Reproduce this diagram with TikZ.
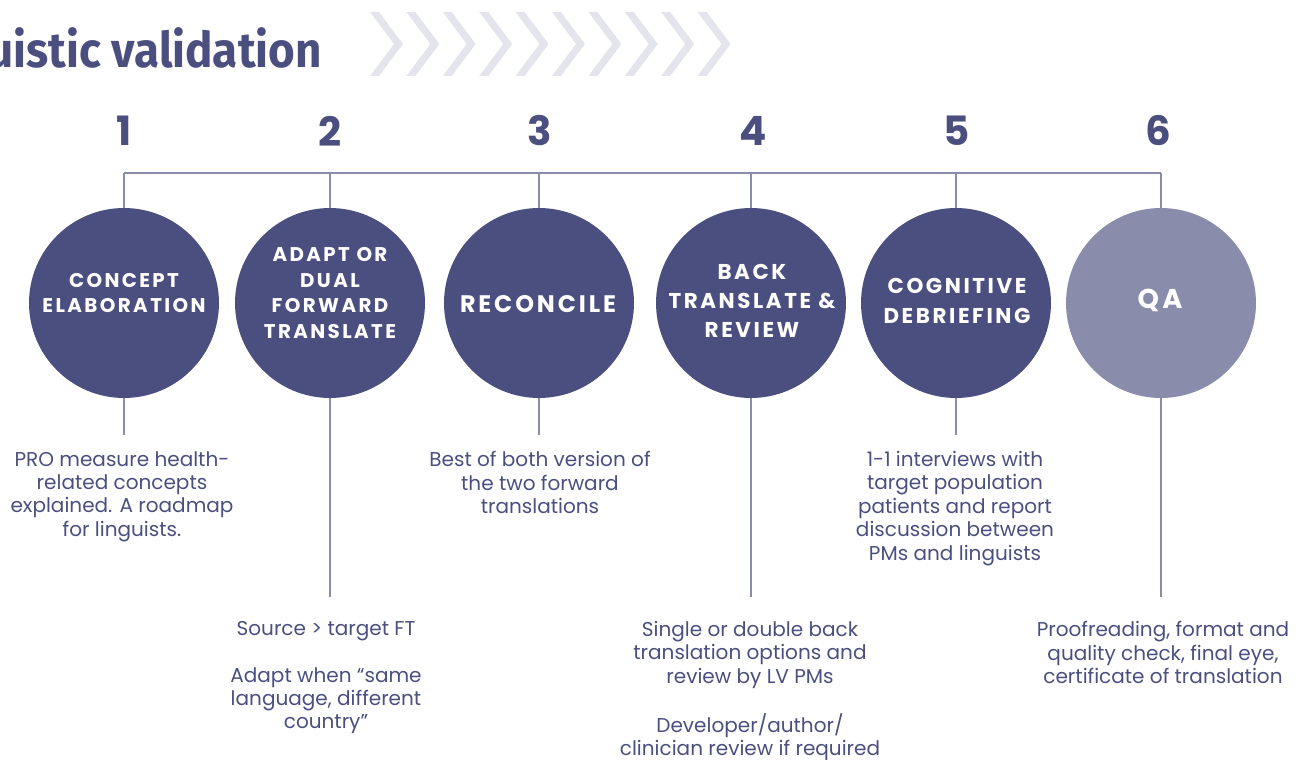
\documentclass[tikz,border=0pt]{standalone}
\usepackage{fontspec}
\setmainfont{Poppins}
\newfontfamily\titlefont{Fira Sans}
\newfontfamily\stepfont[LetterSpace=12]{Poppins}
\usetikzlibrary{positioning, calc}
\definecolor{Primary}{RGB}{75, 79, 128}
\definecolor{Faded}{RGB}{138, 140, 171}
\definecolor{Chevron}{RGB}{228, 229, 236}

\tikzset{
  stepcircle/.style={circle, fill=Primary, minimum size=3.8cm, inner sep=0},
  steplabel/.style={text=white, align=center, inner sep=0,
    font=\stepfont\bfseries\fontsize{11.3}{14.7}\selectfont},
  stepnum/.style={text=Primary, font=\bfseries\fontsize{23}{23}\selectfont},
  stepnote/.style={text=Primary, align=center, inner sep=0, anchor=north,
    font=\fontsize{11.4}{13.3}\selectfont},
  link/.style={draw=Faded, line width=0.8pt}
}

\begin{document}
\begin{tikzpicture}[x=0.02cm, y=-0.02cm]
            \clip (0,0) rectangle (1306,760);

            % heading and chevrons
            \node[anchor=base east, text=Primary, inner sep=0,
              font=\titlefont\bfseries\fontsize{28}{28}\selectfont] (title) at (322,68)
              {\scalebox{0.93}[1]{Linguistic validation}};
            \foreach \i in {0,...,9}
              \fill[Chevron] ({370+36.4*\i},12) -- ++(9,0) -- ++(24,32) -- ++(-24,32)
                -- ++(-9,0) -- ++(24,-32) -- cycle;

            % step numbers
            \node[stepnum] (n1) at (124,131) {1};
            \node[stepnum] (n2) at (330,131) {2};
            \node[stepnum] (n3) at (540,131) {3};
            \node[stepnum] (n4) at (753,131) {4};
            \node[stepnum] (n5) at (957,131) {5};
            \node[stepnum] (n6) at (1158,131) {6};

            % circles
            \node[stepcircle] (c1) at (124,303) {};
            \node[stepcircle] (c2) at (330,303) {};
            \node[stepcircle] (c3) at (539,303) {};
            \node[stepcircle] (c4) at (751,303) {};
            \node[stepcircle] (c5) at (956,303) {};
            \node[stepcircle, fill=Faded] (c6) at (1161,303) {};

            \node[steplabel] (l1) at (124,293) {CONCEPT\\ELABORATION};
            \node[steplabel] (l2) at (330,293) {ADAPT OR\\DUAL\\FORWARD\\TRANSLATE};
            \node[steplabel, font=\stepfont\bfseries\fontsize{13.6}{16}\selectfont] (l3) at (538,304) {RECONCILE};
            \node[steplabel, font=\stepfont\bfseries\fontsize{12.2}{16.7}\selectfont] (l4) at (752,301) {BACK\\TRANSLATE \&\\REVIEW};
            \node[steplabel, font=\stepfont\bfseries\fontsize{12.2}{16.7}\selectfont] (l5) at (957,301) {COGNITIVE\\DEBRIEFING};
            \node[steplabel, font=\stepfont\bfseries\fontsize{15.5}{16}\selectfont] (l6) at (1160,300) {QA};

            % top bar
            \coordinate (b1) at (124,173);
            \coordinate (b2) at (330,173);
            \coordinate (b3) at (539,173);
            \coordinate (b4) at (751,173);
            \coordinate (b5) at (956,173);
            \coordinate (b6) at (1161,173);
            \draw[link] (b1) -- (b6);
            \draw[link] (b1) -- (c1.north);
            \draw[link] (b2) -- (c2.north);
            \draw[link] (b3) -- (c3.north);
            \draw[link] (b4) -- (c4.north);
            \draw[link] (b5) -- (c5.north);
            \draw[link] (b6) -- (c6.north);

            % drops under the circles
            \coordinate (e1) at (124,435);
            \coordinate (e2) at (330,597);
            \coordinate (e3) at (539,435);
            \coordinate (e4) at (751,597);
            \coordinate (e5) at (956,435);
            \coordinate (e6) at (1161,597);
            \draw[link] (c1.south) -- (e1);
            \draw[link] (c2.south) -- (e2);
            \draw[link] (c3.south) -- (e3);
            \draw[link] (c4.south) -- (e4);
            \draw[link] (c5.south) -- (e5);
            \draw[link] (c6.south) -- (e6);

            % notes
            \node[stepnote] (d1) at (122,451) {PRO measure health-\\related concepts\\explained. A roadmap\\for linguists.};
            \node[stepnote] (d3) at (540,451) {Best of both version of\\the two forward\\translations};
            \node[stepnote] (d5) at (955,451) {1-1 interviews with\\target population\\patients and report\\discussion between\\PMs and linguists};
            \node[stepnote] (d2) at (326,621) {Source > target FT\\[\baselineskip]Adapt when “same\\language, different\\country”};
            \node[stepnote] (d4) at (750,621) {Single or double back\\translation options and\\review by LV PMs\\[\baselineskip]Developer/author/\\clinician review if required};
            \node[stepnote] (d6) at (1163,621) {Proofreading, format and\\quality check, final eye,\\certificate of translation};
        \end{tikzpicture}
\end{document}
